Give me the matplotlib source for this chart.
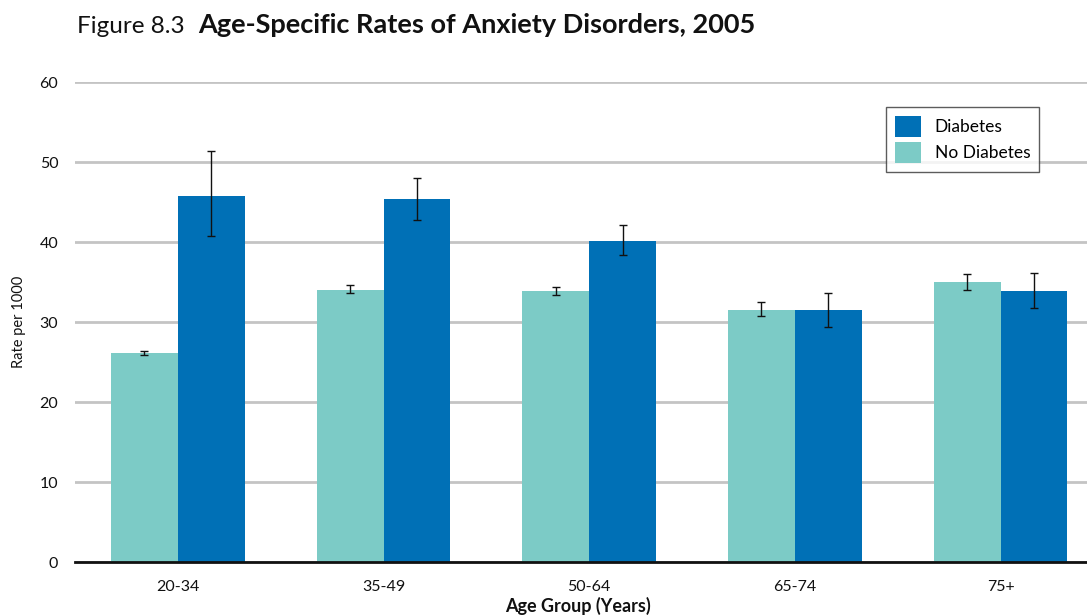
import matplotlib
matplotlib.use("Agg")
import matplotlib.pyplot as plt
import numpy as np

plt.rcParams['font.family'] = ['Lato', 'DejaVu Sans']

# data
age_groups = ['20-34', '35-49', '50-64', '65-74', '75+']
no_diabetes = [26.1, 34.0, 33.9, 31.5, 35.0]
no_diabetes_lo = [25.9, 33.6, 33.4, 30.7, 34.0]
no_diabetes_hi = [26.4, 34.6, 34.4, 32.5, 36.0]
diabetes = [45.8, 45.4, 40.1, 31.5, 33.9]
diabetes_lo = [40.7, 42.8, 38.4, 29.4, 31.7]
diabetes_hi = [51.4, 48.0, 42.1, 33.6, 36.1]

C_DIAB = '#0070b6'
C_NODIAB = '#7ccbc6'

W, H = 1087, 615
fig = plt.figure(figsize=(W / 100, H / 100), dpi=100)
ax = fig.add_axes([75 / W, 1 - 562 / H, 1 - 75 / W, 480 / H])

x = np.arange(len(age_groups))
bw = 0.325

def err(vals, lo, hi):
    v = np.array(vals)
    return [v - np.array(lo), np.array(hi) - v]

ek = dict(ecolor='#111111', elinewidth=1.0, capsize=3.0, capthick=1.0)
ax.bar(x - bw / 2, no_diabetes, bw, color=C_NODIAB, label='No Diabetes', zorder=2,
       yerr=err(no_diabetes, no_diabetes_lo, no_diabetes_hi), error_kw=ek)
ax.bar(x + bw / 2, diabetes, bw, color=C_DIAB, label='Diabetes', zorder=2,
       yerr=err(diabetes, diabetes_lo, diabetes_hi), error_kw=ek)

ax.set_xlim(-0.5, 4.42)
ax.set_ylim(0, 60)
ax.set_yticks(range(0, 61, 10))
ax.set_xticks(x)
ax.set_xticklabels(age_groups)
ax.yaxis.grid(True, color='#c4c4c4', linewidth=2.0, zorder=0)
ax.set_axisbelow(True)
for s in ['top', 'right', 'left']:
    ax.spines[s].set_visible(False)
ax.spines['bottom'].set_linewidth(2.0)
ax.spines['bottom'].set_color('#111111')
ax.spines['bottom'].set_zorder(3)
ax.tick_params(axis='both', length=0, labelsize=11.5, colors='#111111')
ax.tick_params(axis='y', pad=12)
ax.tick_params(axis='x', pad=13)

# axis titles placed in figure pixels
fig.text(19 / W, 1 - 322 / H, 'Rate per 1000', fontsize=10.5, rotation=90,
         ha='center', va='center', color='#111111')
fig.text(578 / W, 1 - 606 / H, 'Age Group (Years)', fontsize=13, fontweight='bold',
         ha='center', va='center', color='#111111')

handles, labels = ax.get_legend_handles_labels()
leg = ax.legend(handles[::-1], labels[::-1], loc='upper right',
                bbox_to_anchor=(1039 / W, 1 - 107 / H), bbox_transform=fig.transFigure,
                borderaxespad=0, fontsize=12.5, frameon=True, fancybox=False,
                edgecolor='#333333', handlelength=1.5, handleheight=1.5,
                handletextpad=0.8, borderpad=0.5, labelspacing=0.3)
leg.get_frame().set_linewidth(1.0)

# title: regular prefix followed by bold text
t1 = fig.text(77 / W, 1 - 33 / H, 'Figure 8.3', fontsize=17.5, va='baseline', color='#111111')
fig.canvas.draw()
bb = t1.get_window_extent()
fig.text((bb.x1 + 14) / W, 1 - 33 / H, 'Age-Specific Rates of Anxiety Disorders, 2005',
         fontsize=19.5, fontweight='bold', va='baseline', color='#111111')

fig.savefig('out.png', dpi=100)
